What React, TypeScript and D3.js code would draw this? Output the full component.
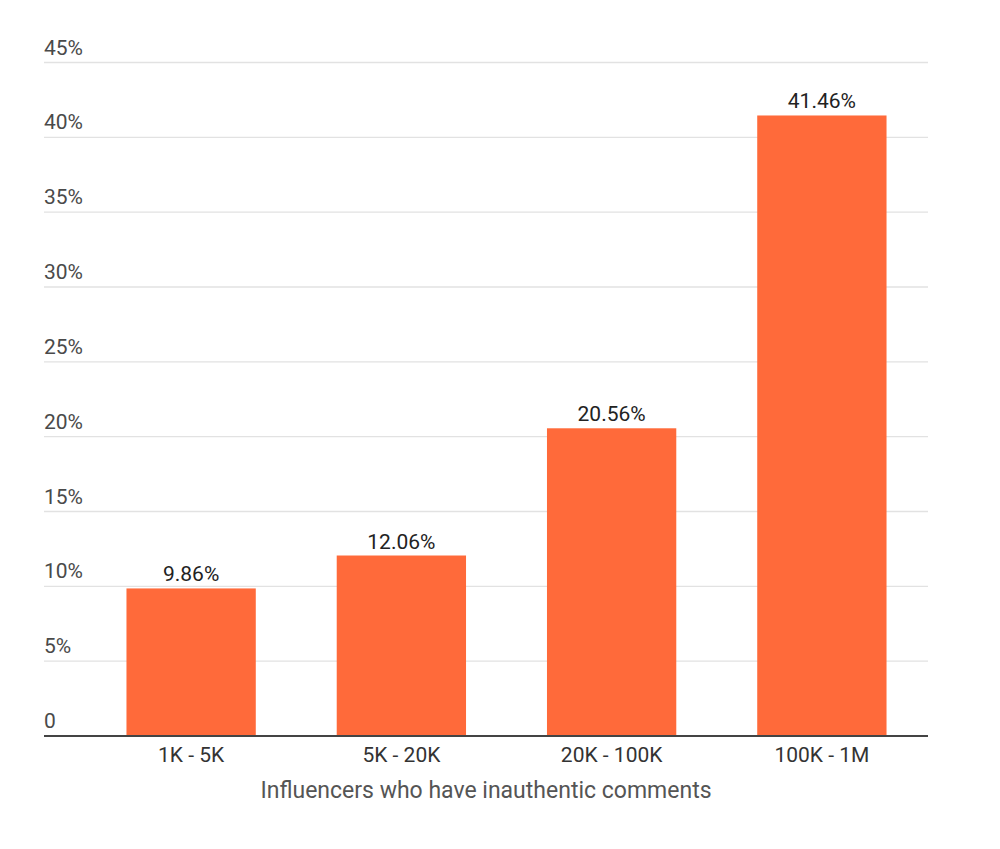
import { useEffect, useRef } from 'react';
import * as d3 from 'd3';

const categories = ['1K - 5K', '5K - 20K', '20K - 100K', '100K - 1M'];
const values = [9.86, 12.06, 20.56, 41.46];
const yTicks = [0, 5, 10, 15, 20, 25, 30, 35, 40, 45];
const xTitle = 'Influencers who have inauthentic comments';

export default function App() {
    const svgRef = useRef<SVGSVGElement>(null);

    useEffect(() => {
        if (!svgRef.current) return;
        const svg = d3.select(svgRef.current);
        svg.selectAll('*').remove();

        const width = 1000;
        const height = 849;
        const gridLeft = 44;
        const gridRight = 928;
        const font = 'Roboto, "Noto Sans", sans-serif';

        svg.attr('width', width).attr('height', height);

        // Scales
        const x = d3.scaleBand()
            .domain(categories)
            .range([86, 927])
            .paddingInner(0.385)
            .paddingOuter(0.1925);

        const y = d3.scaleLinear()
            .domain([0, 45])
            .range([736, 62.5]);

        // Grid lines + labels
        const grid = svg.append('g');
        grid.selectAll('line')
            .data(yTicks.filter(t => t > 0))
            .enter()
            .append('line')
            .attr('x1', gridLeft)
            .attr('x2', gridRight)
            .attr('y1', d => y(d))
            .attr('y2', d => y(d))
            .attr('stroke', '#e2e2e2')
            .attr('stroke-width', 1.3);

        grid.selectAll('text')
            .data(yTicks)
            .enter()
            .append('text')
            .attr('x', gridLeft)
            .attr('y', d => y(d) - 8)
            .attr('font-family', font)
            .attr('font-size', 21)
            .attr('fill', '#4a4a4a')
            .text(d => (d === 0 ? '0' : `${d}%`));

        // Bars
        svg.append('g')
            .selectAll('rect')
            .data(values)
            .enter()
            .append('rect')
            .attr('x', (d, i) => x(categories[i]) || 0)
            .attr('y', d => y(d))
            .attr('width', x.bandwidth())
            .attr('height', d => y(0) - y(d))
            .attr('fill', '#ff6a3a');

        // Value labels
        svg.append('g')
            .selectAll('text')
            .data(values)
            .enter()
            .append('text')
            .attr('x', (d, i) => (x(categories[i]) || 0) + x.bandwidth() / 2)
            .attr('y', d => y(d) - 7)
            .attr('text-anchor', 'middle')
            .attr('font-family', font)
            .attr('font-size', 21)
            .attr('fill', '#222')
            .text(d => `${d.toFixed(2)}%`);

        // Baseline
        svg.append('line')
            .attr('x1', gridLeft)
            .attr('x2', gridRight)
            .attr('y1', y(0))
            .attr('y2', y(0))
            .attr('stroke', '#444')
            .attr('stroke-width', 2);

        // X labels
        svg.append('g')
            .selectAll('text')
            .data(categories)
            .enter()
            .append('text')
            .attr('x', d => (x(d) || 0) + x.bandwidth() / 2)
            .attr('y', 762)
            .attr('text-anchor', 'middle')
            .attr('font-family', font)
            .attr('font-size', 21)
            .attr('fill', '#333')
            .text(d => d);

        // Axis title
        svg.append('text')
            .attr('x', (gridLeft + gridRight) / 2)
            .attr('y', 798)
            .attr('text-anchor', 'middle')
            .attr('font-family', font)
            .attr('font-size', 23)
            .attr('fill', '#555')
            .text(xTitle);
    }, []);

    return (
        <div style={{ position: 'absolute', left: 0, top: 0, background: '#fff' }}>
            <svg ref={svgRef} style={{ display: 'block' }} />
        </div>
    );
}
